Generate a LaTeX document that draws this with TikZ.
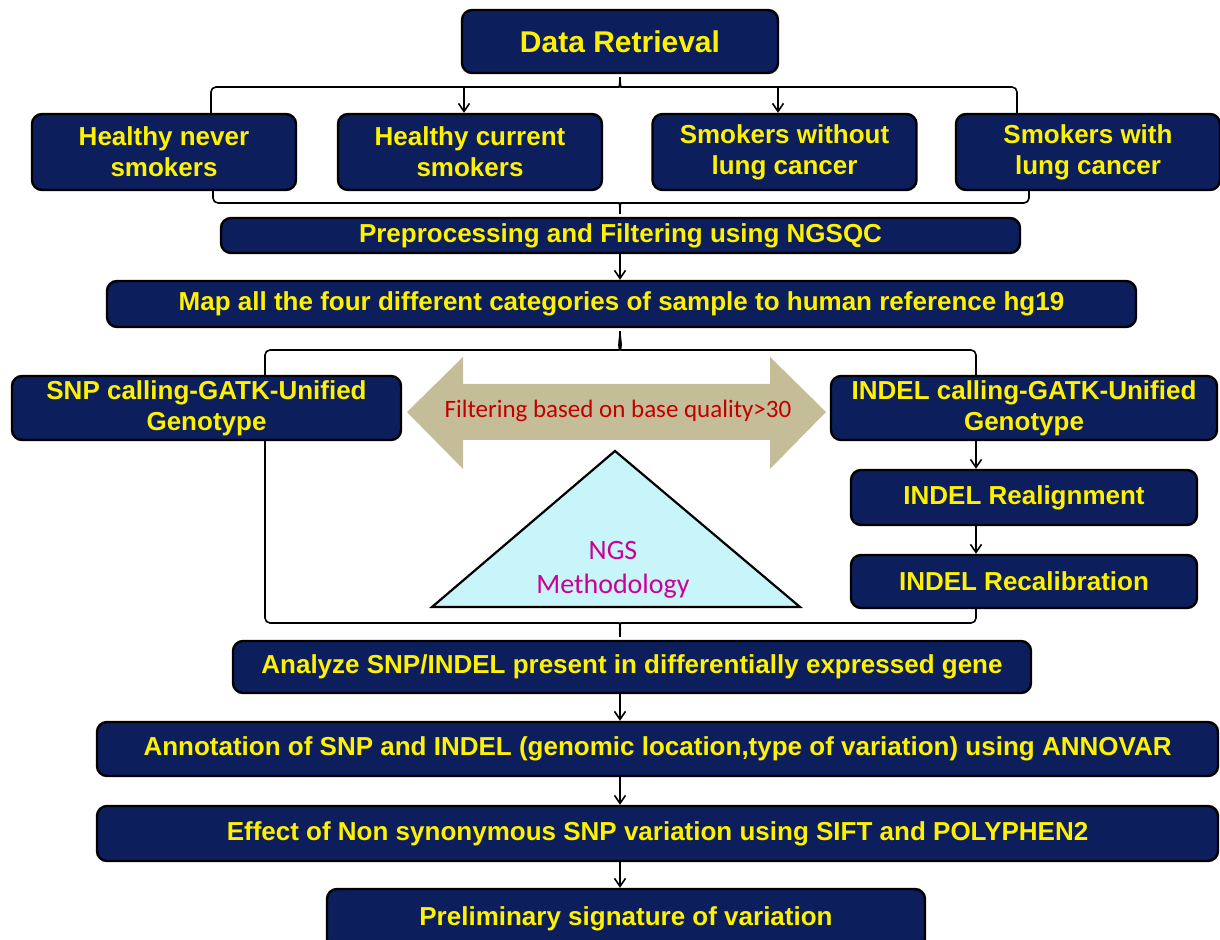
\documentclass[tikz,border=0pt]{standalone}
\usepackage{fontspec}
\setmainfont{Liberation Sans}
\newfontfamily\calib{Carlito}
\usetikzlibrary{arrows.meta,calc}
\definecolor{boxnavy}{RGB}{12,30,92}
\definecolor{tanarrow}{RGB}{196,189,151}
\definecolor{triblue}{RGB}{200,245,250}
\definecolor{filtred}{RGB}{192,0,0}
\definecolor{ngsmag}{RGB}{204,0,153}

\begin{document}
\begin{tikzpicture}[x=0.5pt, y=-0.5pt, >={Straight Barb[length=4pt,width=5.5pt]},
    box/.style={draw=black, line width=1.2pt, rounded corners=5pt, fill=boxnavy, text=yellow,
      font=\bfseries\fontsize{13}{15.5}\selectfont, align=center, inner sep=0pt},
    link/.style={line width=0.8pt, line cap=round}]
    \clip (0,0) rectangle (1220,940);

    % boxes
    \node[box, minimum width=158pt, minimum height=31.5pt, font=\bfseries\fontsize{15}{17}\selectfont] (ret) at (620,41.5) {Data Retrieval};
    \node[box, minimum width=132pt, minimum height=38pt] (never) at (164,152) {Healthy never\\smokers};
    \node[box, minimum width=132pt, minimum height=38pt] (current) at (470,152) {Healthy current\\smokers};
    \node[box, minimum width=132pt, minimum height=38pt] (without) at (784.5,152) {Smokers without\\lung cancer};
    \node[box, minimum width=132pt, minimum height=38pt] (with) at (1088,152) {Smokers with\\lung cancer};
    \node[box, minimum width=399.5pt, minimum height=17.5pt] (prep) at (620.5,235.5) {Preprocessing and Filtering using NGSQC};
    \node[box, minimum width=514.5pt, minimum height=23pt] (map) at (621.5,304) {Map all the four different categories of sample to human reference hg19};
    \node[box, minimum width=194.5pt, minimum height=32pt] (snp) at (206.5,408) {SNP calling-GATK-Unified\\Genotype};
    \node[box, minimum width=193pt, minimum height=32pt] (indel) at (1024,408) {INDEL calling-GATK-Unified\\Genotype};
    \node[box, minimum width=173pt, minimum height=27.5pt] (realign) at (1024,497.5) {INDEL Realignment};
    \node[box, minimum width=173pt, minimum height=26.5pt] (recal) at (1024,581.5) {INDEL Recalibration};
    \node[box, minimum width=399pt, minimum height=26pt] (analyze) at (632,667) {Analyze SNP/INDEL present in differentially expressed gene};
    \node[box, minimum width=560.5pt, minimum height=27pt] (annot) at (657.5,749) {Annotation of SNP and INDEL (genomic location,type of variation) using ANNOVAR};
    \node[box, minimum width=560.5pt, minimum height=27.5pt] (effect) at (657.5,833.5) {Effect of Non synonymous\ SNP variation using SIFT and POLYPHEN2};
    \node[box, minimum width=299pt, minimum height=30pt] (prelim) at (626,919) {Preliminary signature of variation};

    % filtering arrow and triangle
    \fill[tanarrow] (407,412) -- (463,357) -- (463,384) -- (770,384) -- (770,357) -- (826,412)
        -- (770,469) -- (770,440) -- (463,440) -- (463,469) -- cycle;
    \node[text=filtred, font=\calib\fontsize{12.5}{15}\selectfont] (filt) at (618,411) {Filtering based on base quality>30};
    \draw[line width=1.1pt, fill=triblue] (615,451) -- (800,607) -- (432,607) -- cycle;
    \node[text=ngsmag, font=\calib\fontsize{14}{17}\selectfont, align=center] (ngs) at (613,570) {NGS\\Methodology};

    % braces and arrows
    \coordinate (mid) at (620,0);
    \coordinate (a1) at (464,87);
    \coordinate (a2) at (778,87);
    \coordinate (lx) at (265,350);
    \coordinate (rx) at (976,350);
    \draw[link, rounded corners=2.5pt] ($(never.north)+(47,0)$) |- (614,87) to[out=0,in=-90] (ret.south -| mid)
        to[out=-90,in=180] (626,87) -| ($(with.north)+(-71,0)$);
    \draw[link,->] (a1) -- (a1 |- current.north);
    \draw[link,->] (a2) -- (a2 |- without.north);
    \draw[link, rounded corners=2.5pt] ($(never.south)+(49,0)$) |- (614,203) to[out=0,in=90] (prep.north -| mid)
        to[out=90,in=180] (626,203) -| ($(with.south)+(-59,0)$);
    \draw[link,->] (prep.south -| mid) -- (map.north -| mid);
    \draw[link, rounded corners=2.5pt] (snp.north -| lx) |- (614,350) to[out=0,in=-90] (map.south -| mid)
        to[out=-90,in=180] (626,350) -| (indel.north -| rx);
    \draw[link, rounded corners=2.5pt] (snp.south -| lx) |- (614,623) to[out=0,in=90] (analyze.north -| mid)
        to[out=90,in=180] (626,623) -| (recal.south -| rx);
    \draw[link,->] (indel.south -| rx) -- (realign.north -| rx);
    \draw[link,->] (realign.south -| rx) -- (recal.north -| rx);
    \draw[link,->] (analyze.south -| mid) -- (annot.north -| mid);
    \draw[link,->] (annot.south -| mid) -- (effect.north -| mid);
    \draw[link,->] (effect.south -| mid) -- (prelim.north -| mid);
\end{tikzpicture}
\end{document}
